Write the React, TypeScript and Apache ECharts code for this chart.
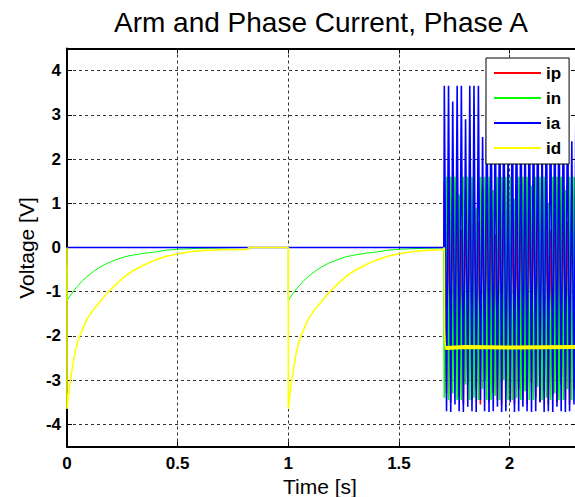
import React, { useEffect, useRef } from "react";
import * as echarts from "echarts";

// ---- data ----
const seriesNames = ["ip", "in", "ia", "id"];
const seriesColors = ["#ff0000", "#00ff00", "#0000ff", "#ffff00"];

// relative time (s) after each switching event and the decaying currents
const episodeStarts = [0, 1];
const decayT = [0, 0.01, 0.02, 0.035, 0.05, 0.07, 0.09, 0.12, 0.15, 0.18, 0.22, 0.26, 0.3, 0.35, 0.4, 0.45, 0.5, 0.55, 0.6, 0.7, 0.8];
const idDecay = [-3.65, -3.2, -2.85, -2.4, -2.1, -1.85, -1.62, -1.4, -1.22, -1.04, -0.84, -0.66, -0.52, -0.39, -0.28, -0.2, -0.14, -0.1, -0.07, -0.05, -0.045];
const inDecay = [-1.2, -1.12, -1.05, -0.95, -0.86, -0.75, -0.66, -0.54, -0.44, -0.36, -0.28, -0.21, -0.17, -0.13, -0.1, -0.06, -0.04, -0.03, -0.02, -0.01, 0];
const inStartValue = -0.4;
const idZeroFrom = 0.82;
const oscStart = 1.705;

// oscillating part (t >= 1.705 s)
const oscT = [1.705, 1.715, 1.724, 1.734, 1.743, 1.753, 1.763, 1.772, 1.782, 1.791, 1.801, 1.811, 1.82, 1.83, 1.839, 1.849, 1.859, 1.868, 1.878, 1.887, 1.897, 1.907, 1.916, 1.926, 1.935, 1.945, 1.955, 1.964, 1.974, 1.983, 1.993, 2.003, 2.012, 2.022, 2.031, 2.041, 2.051, 2.06, 2.07, 2.079, 2.089, 2.099, 2.108, 2.118, 2.127, 2.137, 2.147, 2.156, 2.166, 2.175, 2.185, 2.195, 2.204, 2.214, 2.223, 2.233, 2.243, 2.252, 2.262, 2.271, 2.281, 2.291, 2.3];
const iaOsc = [3.66, -3.7, 3.66, -3.72, 3.3, -3.55, 3.66, -3.7, 3.66, -3.72, 2.9, -3.6, 3.66, -3.7, 3.66, -3.72, 3.66, -3.45, 2.5, -3.7, 3.66, -3.72, 3.66, -3.7, 3.4, -3.6, 3.66, -3.72, 3.66, -3.7, 2.2, -3.5, 3.66, -3.72, 3.66, -3.7, 3.66, -3.6, 3.0, -3.7, 3.66, -3.72, 3.66, -3.7, 3.66, -3.5, 2.7, -3.72, 3.66, -3.7, 3.66, -3.72, 3.5, -3.6, 3.66, -3.7, 3.66, -3.72, 3.66, -3.7, 2.4, -3.55, 3.66];
const inOsc = [-3.4, 1.6, -3.45, 1.6, -3.3, 1.6, -3.45, 1.2, -3.45, 1.6, -3.1, 1.6, -3.45, 1.6, -3.4, 0.9, -3.45, 1.6, -3.2, 1.6, -3.45, 1.6, -3.45, 1.3, -3.35, 1.6, -3.45, 1.6, -3.0, 1.6, -3.45, 1.6, -3.45, 1.1, -3.4, 1.6, -3.45, 1.6, -3.25, 1.6, -3.45, 1.4, -3.45, 1.6, -3.15, 1.6, -3.45, 1.6, -3.4, 1.0, -3.45, 1.6, -3.3, 1.6, -3.45, 1.6, -3.45, 1.3, -3.2, 1.6, -3.45, 1.6, -3.4];
const ipOsc = [1.5, -3.3, 0.8, -3.5, 1.2, -2.9, 1.55, -3.4, 0.4, -3.55, 1.3, -3.1, 1.0, -3.45, 1.55, -3.2, 0.6, -3.55, 1.4, -3.0, 0.9, -3.5, 1.5, -3.3, 0.3, -3.45, 1.2, -3.55, 1.55, -2.95, 0.7, -3.4, 1.35, -3.55, 1.0, -3.2, 1.5, -3.45, 0.5, -3.55, 1.25, -3.05, 1.55, -3.4, 0.8, -3.5, 1.45, -3.25, 1.1, -3.55, 0.4, -3.35, 1.5, -3.5, 0.95, -3.1, 1.4, -3.45, 0.6, -3.55, 1.3, -3.2, 1.55];
const idStepT = [1.705, 1.706, 1.708, 1.711, 1.72];
const idStepV = [0, -1.85, -2.12, -2.3, -2.25];
const idBandT = [1.711, 1.8, 2.0, 2.3];
const idBandV = [-2.27, -2.25, -2.26, -2.25];

const xTickLabels = ["0", "0.5", "1", "1.5", "2"];
const yTickLabels = ["-4", "-3", "-2", "-1", "0", "1", "2", "3", "4"];
const xRange = [0, 2.3];
const yRange = [-4.5, 4.5];

const FONT = '"Liberation Sans", Arial, Helvetica, sans-serif';

function zip(t: number[], v: number[]) {
  return t.map((x, i) => [x, v[i]]);
}

function buildData() {
  const pre = oscStart - 0.002;
  const iaPre = [[0, 0], [pre, 0]];
  const ipPre = [[0, 0], [pre, 0]];
  const ia = [[pre, 0], ...zip(oscT, iaOsc)];
  const ip = [[pre, 0], ...zip(oscT, ipOsc)];
  const innPre: number[][] = [[0, inStartValue]];
  episodeStarts.forEach((s, e) => {
    if (e > 0) innPre.push([s, 0]);
    decayT.forEach((t, i) => {
      if (s + t < pre) innPre.push([s + t, inDecay[i]]);
    });
  });
  innPre.push([pre, 0]);
  const inn = [[pre, 0], ...zip(oscT, inOsc)];
  const id: number[][] = [[0, 0]];
  episodeStarts.forEach((s, e) => {
    if (e > 0) id.push([s, 0]);
    decayT.forEach((t, i) => {
      if (s + t < pre) id.push([s + t, idDecay[i]]);
    });
    if (e === 0) {
      id.push([idZeroFrom - 0.002, idDecay[idDecay.length - 1]]);
      id.push([idZeroFrom, 0]);
    }
  });
  id.push([pre, idDecay[idDecay.length - 2]]);
  zip(idStepT, idStepV).forEach((p) => id.push(p));
  const band = zip(idBandT, idBandV);
  return { ia, ip, inn, iaPre, ipPre, innPre, id, band };
}

export default function App() {
  const ref = useRef<HTMLDivElement>(null);
  useEffect(() => {
    if (!ref.current) return;
    const chart = echarts.init(ref.current, undefined, { renderer: "svg" });
    const d = buildData();
    const W = 600;
    const plotRight = 576;
    const lineSeries = (name: string, color: string, data: number[][], width = 1) => ({
      type: "line",
      name,
      data,
      showSymbol: false,
      symbol: "none",
      color,
      lineStyle: { color, width },
      silent: true,
      animation: false,
    });
    const gridLine = { show: true, lineStyle: { color: "#333", type: [3, 3], width: 1 } };
    const axisLine = { show: true, onZero: false, lineStyle: { color: "#000", width: 2 } };
    const tick = { show: true, inside: true, length: 5, lineStyle: { color: "#000", width: 1 } };
    const labelFont = { fontFamily: FONT, fontSize: 17, fontWeight: "bold", color: "#000" };

    chart.setOption({
      animation: false,
      backgroundColor: "#fff",
      grid: { left: 67, top: 48.5, right: W - plotRight, bottom: 50.5, containLabel: false },
      legend: {
        data: seriesNames,
        orient: "vertical",
        left: 486,
        top: 58,
        icon: "rect",
        itemWidth: 47,
        itemHeight: 2,
        itemGap: 7,
        padding: [6, 8, 7, 8],
        backgroundColor: "#fff",
        borderColor: "#000",
        borderWidth: 1,
        borderRadius: 0,
        itemStyle: { borderWidth: 0 },
        textStyle: { fontFamily: FONT, fontSize: 17, fontWeight: "bold", color: "#000", lineHeight: 18 },
        selectedMode: false,
      },
      xAxis: [
        {
          type: "value",
          min: xRange[0],
          max: xRange[1],
          minInterval: 0.5,
          maxInterval: 0.5,
          axisLine,
          axisTick: tick,
          splitLine: gridLine,
          axisLabel: {
            ...labelFont,
            margin: 8,
            showMaxLabel: false,
            formatter: (v: number) => {
              const s = String(Math.round(v * 1000) / 1000);
              return xTickLabels.includes(s) ? s : "";
            },
          },
        },
        {
          type: "value",
          position: "top",
          min: xRange[0],
          max: xRange[1],
          minInterval: 0.5,
          maxInterval: 0.5,
          axisLine,
          axisTick: tick,
          splitLine: { show: false },
          axisLabel: { show: false },
        },
      ],
      yAxis: [
        {
          type: "value",
          min: yRange[0],
          max: yRange[1],
          minInterval: 1,
          maxInterval: 1,
          axisLine,
          axisTick: tick,
          splitLine: gridLine,
          axisLabel: {
            ...labelFont,
            margin: 6,
            showMinLabel: false,
            showMaxLabel: false,
            formatter: (v: number) => {
              const s = String(Math.round(v * 1000) / 1000);
              return yTickLabels.includes(s) ? s : "";
            },
          },
        },
        {
          type: "value",
          position: "right",
          min: yRange[0],
          max: yRange[1],
          minInterval: 1,
          maxInterval: 1,
          axisLine,
          axisTick: tick,
          splitLine: { show: false },
          axisLabel: { show: false },
        },
      ],
      graphic: [
        {
          type: "text",
          x: 321,
          y: 22,
          style: {
            text: "Arm and Phase Current, Phase A",
            fontFamily: FONT,
            fontSize: 28,
            fill: "#000",
            align: "center",
            verticalAlign: "middle",
          },
        },
        {
          type: "text",
          x: 320,
          y: 486,
          style: {
            text: "Time [s]",
            fontFamily: FONT,
            fontSize: 21,
            fill: "#000",
            align: "center",
            verticalAlign: "middle",
          },
        },
        {
          type: "text",
          x: 26,
          y: 248,
          rotation: Math.PI / 2,
          style: {
            text: "Voltage [V]",
            fontFamily: FONT,
            fontSize: 21,
            fill: "#000",
            align: "center",
            verticalAlign: "middle",
          },
        },
      ],
      series: [
        lineSeries(seriesNames[0], seriesColors[0], d.ipPre, 1),
        lineSeries(seriesNames[1], seriesColors[1], d.innPre, 1),
        lineSeries(seriesNames[2], seriesColors[2], d.iaPre, 1.5),
        lineSeries(seriesNames[0], seriesColors[0], d.ip, 1.6),
        lineSeries(seriesNames[1], seriesColors[1], d.inn, 1.6),
        lineSeries(seriesNames[2], seriesColors[2], d.ia, 1.6),
        lineSeries(seriesNames[3], seriesColors[3], d.id, 1.6),
        lineSeries(seriesNames[3], seriesColors[3], d.band, 4),
      ],
    });
    return () => chart.dispose();
  }, []);
  return (
    <div style={{ position: "fixed", left: 0, top: 0, width: 575, height: 497, overflow: "hidden", background: "#fff" }}>
      <div ref={ref} style={{ width: 600, height: 497 }} />
    </div>
  );
}
